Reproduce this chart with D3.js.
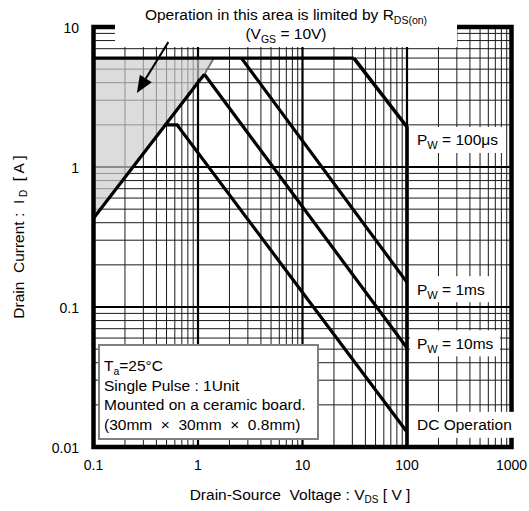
<!DOCTYPE html>
<html><head><meta charset="utf-8">
<script src="https://cdn.jsdelivr.net/npm/d3@7"></script>
<style>body{margin:0;background:#fff}svg{display:block}text{font-family:"Liberation Sans",Arial,sans-serif;fill:#000;white-space:pre}</style>
</head><body><svg id="c" width="529" height="511"></svg>
<script>
// ---- data ----
const xTicks = [0.1, 1, 10, 100, 1000];
const yTicks = [0.01, 0.1, 1, 10];
const xTickLabels = ["0.1", "1", "10", "100", "1000"];
const yTickLabels = ["0.01", "0.1", "1", "10"];
// limit lines, [V_DS, I_D]
const rdsLimit = [[0.1, 0.43], [1.15, 4.6]];
const rdsLimitUpper = [[1.15, 4.6], [1.42, 6]];
const currentLimit = [[0.1, 6], [31, 6]];
const pw100us = [[31, 6], [100, 1.93], [100, 0.01]];
const pw1ms = [[2.6, 6], [100, 0.15]];
const pw10ms = [[1.15, 4.6], [100, 0.051]];
const dcOp = [[0.48, 2.0], [0.63, 2.0], [100, 0.0128]];
const shadedArea = [[0.1, 0.43], [1.42, 6], [0.1, 6]];
const arrowPts = [[0.52, 7.8], [0.26, 3.38]];
const curveLabels = [
  {main: "P", sub: "W", rest: " = 100μs", v: 1.56, w: 96},
  {main: "P", sub: "W", rest: " = 1ms", v: 0.134, w: 82},
  {main: "P", sub: "W", rest: " = 10ms", v: 0.055, w: 90},
  {main: "DC Operation", sub: "", rest: "", v: 0.0144, w: 104}
];
const infoLines = [
  [["T",""],["a","sub"],["=25°C",""]],
  [["Single Pulse : 1Unit",""]],
  [["Mounted on a ceramic board.",""]],
  [["(30mm  ×  30mm  ×  0.8mm)",""]]
];

// ---- layout ----
const svg = d3.select("#c");
const m = {l: 93.5, t: 27, r: 17.5, b: 64};
const W = 529 - m.l - m.r, H = 511 - m.t - m.b;
const x = d3.scaleLog().domain([0.1, 1000]).range([m.l, m.l + W]);
const y = d3.scaleLog().domain([0.01, 10]).range([m.t + H, m.t]);
const line = d3.line().x(d => x(d[0])).y(d => y(d[1]));

// grid
const minorX = [], minorY = [];
for (let e = -1; e < 3; e++) for (let k = 2; k <= 9; k++) minorX.push(k * Math.pow(10, e));
for (let e = -2; e < 1; e++) for (let k = 2; k <= 9; k++) minorY.push(k * Math.pow(10, e));
const g = svg.append("g");
g.selectAll(".mx").data(minorX).join("line").attr("x1", d => x(d)).attr("x2", d => x(d))
  .attr("y1", m.t).attr("y2", m.t + H).attr("stroke", "#1a1a1a").attr("stroke-width", 1);
g.selectAll(".my").data(minorY).join("line").attr("y1", d => y(d)).attr("y2", d => y(d))
  .attr("x1", m.l).attr("x2", m.l + W).attr("stroke", "#1a1a1a").attr("stroke-width", 1);
g.selectAll(".Mx").data(xTicks.slice(1, -1)).join("line").attr("x1", d => x(d)).attr("x2", d => x(d))
  .attr("y1", m.t).attr("y2", m.t + H).attr("stroke", "#000").attr("stroke-width", 2.2);
g.selectAll(".My").data(yTicks.slice(1, -1)).join("line").attr("y1", d => y(d)).attr("y2", d => y(d))
  .attr("x1", m.l).attr("x2", m.l + W).attr("stroke", "#000").attr("stroke-width", 2.2);

// shaded area
svg.append("path").attr("d", line(shadedArea) + "Z").attr("fill", "#cccccc").attr("fill-opacity", 0.68);

// border
svg.append("rect").attr("x", m.l).attr("y", m.t).attr("width", W).attr("height", H)
  .attr("fill", "none").attr("stroke", "#000").attr("stroke-width", 4.5);

// curves
const curves = svg.append("g").attr("fill", "none").attr("stroke", "#000").attr("stroke-linejoin", "miter");
curves.append("path").attr("d", line(rdsLimitUpper)).attr("stroke", "#777").attr("stroke-width", 2);
[rdsLimit, currentLimit, pw1ms, pw10ms, dcOp].forEach(c =>
  curves.append("path").attr("d", line(c)).attr("stroke-width", 3.2));
curves.append("path").attr("d", line(pw100us)).attr("stroke-width", 3.6);

// title box
svg.append("rect").attr("x", 115).attr("y", 0).attr("width", 342).attr("height", 47).attr("fill", "#fff");
const t1 = svg.append("text").attr("x", 286).attr("y", 20).attr("text-anchor", "middle").attr("font-size", 15.5);
t1.append("tspan").text("Operation in this area is limited by R");
t1.append("tspan").text("DS(on)").attr("font-size", 10.5).attr("dy", 4);
const t2 = svg.append("text").attr("x", 286).attr("y", 39).attr("text-anchor", "middle").attr("font-size", 15.5);
t2.append("tspan").text("(V");
t2.append("tspan").text("GS").attr("font-size", 10.5).attr("dy", 4);
t2.append("tspan").text(" = 10V)").attr("dy", -4);

// arrow
const [a0, a1] = arrowPts.map(p => [x(p[0]), y(p[1])]);
const ang = Math.atan2(a1[1] - a0[1], a1[0] - a0[0]);
const hl = 17, hw = 7;
const bx = a1[0] - hl * Math.cos(ang), by = a1[1] - hl * Math.sin(ang);
svg.append("line").attr("x1", a0[0]).attr("y1", a0[1]).attr("x2", bx).attr("y2", by)
  .attr("stroke", "#000").attr("stroke-width", 2);
svg.append("path").attr("d", d3.line()([a1, [bx + hw * Math.sin(ang), by - hw * Math.cos(ang)], [bx - hw * Math.sin(ang), by + hw * Math.cos(ang)]]) + "Z")
  .attr("fill", "#000");

// curve labels
const lg = svg.append("g");
curveLabels.forEach(l => {
  const cy = y(l.v);
  lg.append("rect").attr("x", x(100) + 3).attr("y", cy - 13).attr("width", l.w).attr("height", 26).attr("fill", "#fff");
  const t = lg.append("text").attr("x", x(100) + 10).attr("y", cy + 5.5).attr("font-size", 15.5);
  t.append("tspan").text(l.main);
  if (l.sub) {
    t.append("tspan").text(l.sub).attr("font-size", 11).attr("dy", 4);
    t.append("tspan").text(l.rest).attr("dy", -4);
  }
});

// info box
svg.append("rect").attr("x", 99).attr("y", 345).attr("width", 219).attr("height", 94)
  .attr("fill", "#fff").attr("stroke", "#808080").attr("stroke-width", 2);
infoLines.forEach((ln, i) => {
  const t = svg.append("text").attr("x", 104).attr("y", 371 + i * 19.7).attr("font-size", 15.5);
  ln.forEach(([s, k]) => {
    const ts = t.append("tspan").text(s);
    if (k === "sub") ts.attr("font-size", 10.5).attr("dy", 4);
    else if (t.selectAll("tspan").size() > 1) ts.attr("dy", -4);
  });
});

// tick labels
svg.selectAll(".xt").data(xTicks).join("text").attr("x", d => x(d)).attr("y", m.t + H + 23)
  .attr("text-anchor", "middle").attr("font-size", 14).text((d, i) => xTickLabels[i]);
svg.selectAll(".yt").data(yTicks).join("text").attr("x", 79).attr("y", d => y(d) + 6)
  .attr("text-anchor", "end").attr("font-size", 14).text((d, i) => yTickLabels[i]);

// axis titles
const xt = svg.append("text").attr("x", 300).attr("y", 500).attr("text-anchor", "middle").attr("font-size", 15.5);
xt.append("tspan").text("Drain-Source  Voltage : V");
xt.append("tspan").text("DS").attr("font-size", 10).attr("dy", 3);
xt.append("tspan").text(" [ V ]").attr("dy", -3);
const yt = svg.append("text").attr("transform", `translate(24,${m.t + H / 2}) rotate(-90)`)
  .attr("text-anchor", "middle").attr("font-size", 15.5);
yt.append("tspan").text("Drain  Current :  I");
yt.append("tspan").text(" D").attr("font-size", 10).attr("dy", 3);
yt.append("tspan").text("  [ A ]").attr("dy", -3);
</script></body></html>
